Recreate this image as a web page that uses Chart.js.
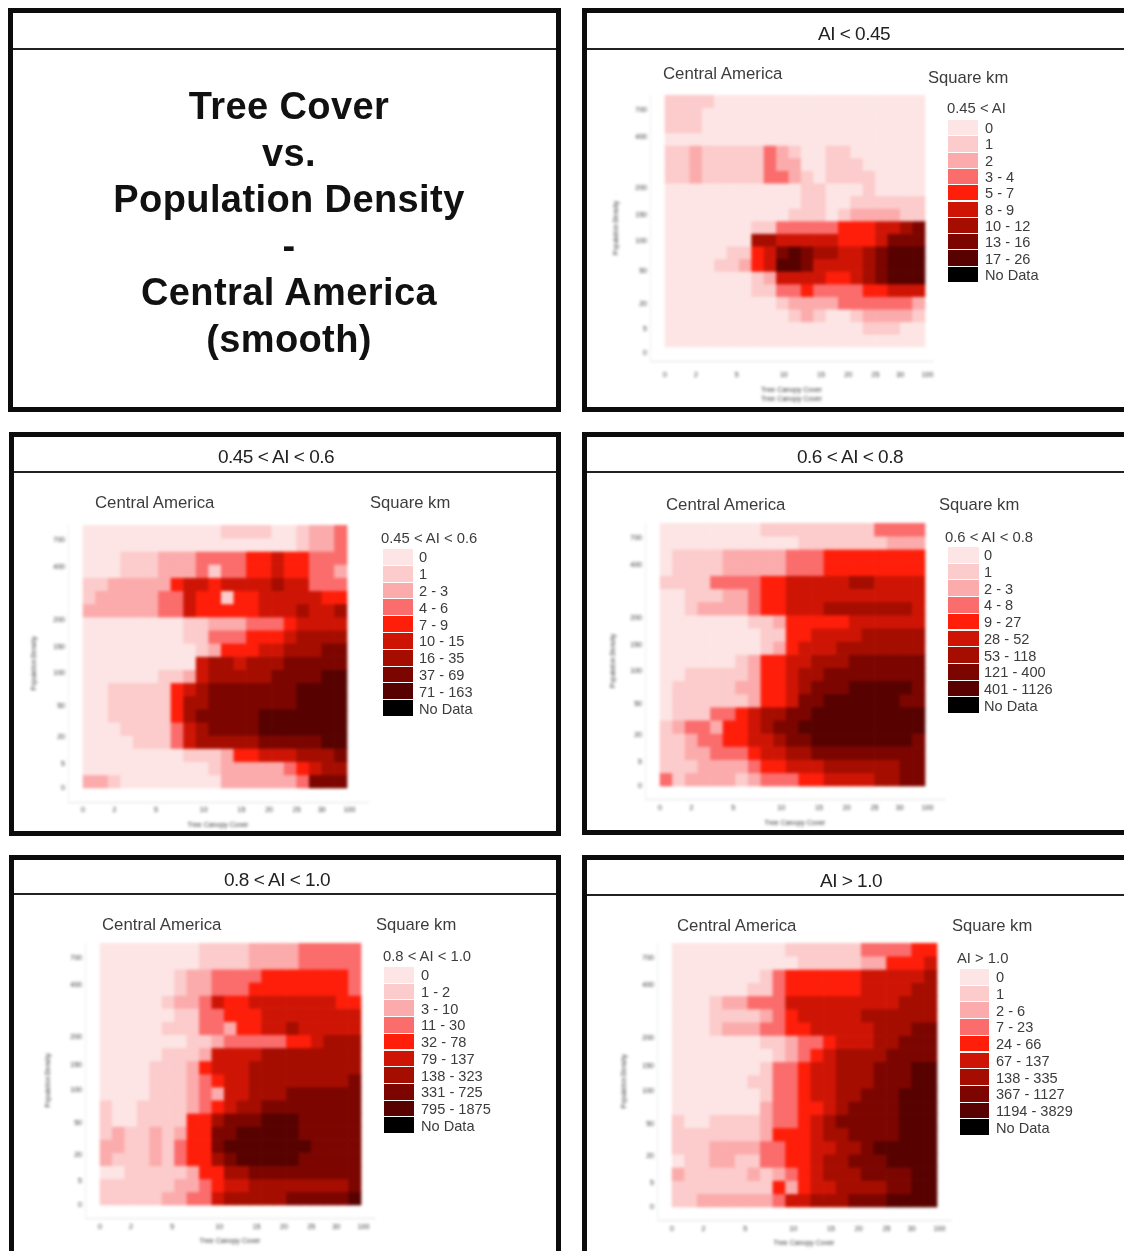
<!DOCTYPE html>
<html><head><meta charset="utf-8">
<script src="https://cdn.jsdelivr.net/npm/chart.js@4"></script>
<style>
html,body{margin:0;padding:0;background:#fff;width:1124px;height:1251px;overflow:hidden;font-family:"Liberation Sans",Arial,sans-serif}
.box{position:absolute;box-sizing:border-box;border:5px solid #0c0c0c;background:#fff;filter:blur(.4px)}
.div{position:absolute;left:0;right:0;height:2px;background:#222}
.t{position:absolute;white-space:nowrap;color:#3c3c3c;filter:blur(.5px);z-index:3}
.head{position:absolute;white-space:nowrap;color:#222;font-size:19px;letter-spacing:-.5px;transform:translate(-50%,-50%);filter:blur(.3px);z-index:3}
.sw{position:absolute;filter:blur(.7px);z-index:2}
canvas{position:absolute;filter:blur(1.4px);z-index:1}
.main{position:absolute;left:0;width:578px;text-align:center;font-weight:bold;font-size:38px;letter-spacing:.4px;color:#111;line-height:46.5px;top:83px;filter:blur(.4px);z-index:3}
</style></head><body>
<div id="root"></div>
<div class="main">Tree Cover<br>vs.<br>Population Density<br>-<br>Central America<br>(smooth)</div>
<script>
const xTickLabels = ["0","2","5","10","15","20","25","30","100"];
const yTickLabels = ["700","400","200","150","100","50","20","5","0"];
const xTickCols = [0,2.5,5.8,9.6,12.6,14.8,17,19,21.2];
const yTickRows = [18.85,16.8,12.8,10.7,8.75,6.25,3.85,1.85,0];
const yTickRowsTop = [18.8,16.7,12.6,10.5,8.4,6,3.4,1.4,-0.5];
const levelColors = ["#fde5e5","#fccbcb","#fbabab","#fb6c6c","#fe1e0a","#ce1505","#a50d00","#7c0500","#570200","#000000"];

const legendA = ["0","1","2","3 - 4","5 - 7","8 - 9","10 - 12","13 - 16","17 - 26","No Data"];
const legendB = ["0","1","2 - 3","4 - 6","7 - 9","10 - 15","16 - 35","37 - 69","71 - 163","No Data"];
const legendC = ["0","1","2 - 3","4 - 8","9 - 27","28 - 52","53 - 118","121 - 400","401 - 1126","No Data"];
const legendD = ["0","1 - 2","3 - 10","11 - 30","32 - 78","79 - 137","138 - 323","331 - 725","795 - 1875","No Data"];
const legendE = ["0","1","2 - 6","7 - 23","24 - 66","67 - 137","138 - 335","367 - 1127","1194 - 3829","No Data"];

const gridA = [
"111100000000000000000",
"111000000000000000000",
"111000000000000000000",
"000000000000000000000",
"112111113210011000000",
"112111113220011100000",
"112111113321011110000",
"000000000001100010000",
"000000000001100111111",
"000000000011101222211",
"000000011333334445567",
"000000066555554445777",
"000001145787665567888",
"000011245887555567888",
"000000012555544567888",
"000000011334333344555",
"000000000122223333332",
"000000000012100122221",
"000000000000000011100",
"000000000000000000000"];
const gridB = [
"000000000001111001223",
"000000000000000001223",
"000111222333344544333",
"000111222313344544332",
"112222245545555655333",
"122222335441445555544",
"222222335444445556556",
"000000001122233345555",
"000000001133344456666",
"000000000124445566677",
"000000000566566677777",
"000000112566666777788",
"001111145677777778888",
"001111146677777778888",
"001111146777778888888",
"000111135677778888888",
"000011135666667777788",
"000000001112445556667",
"000000000012222234566",
"221000000002222223777"];
const gridC = [
"000000001111111113333",
"000000000001111111222",
"011112222233344444444",
"011112222233344444444",
"111133334455555665555",
"001112234455555555555",
"001222234455566666665",
"000000011244444555555",
"000000001144555566666",
"000000001245556666666",
"000000124455666777777",
"001111124456677777777",
"011111224456777888887",
"011111124457788888877",
"011133456677888888888",
"123324456778888888888",
"112334455677888888887",
"112233345566777777777",
"111222234455566666677",
"312222123334455556677"];
const gridD = [
"000000001111222233333",
"000000001111222233333",
"000000122333344444443",
"000000122333444444443",
"000001223544555555544",
"000000113344455555555",
"000001113324455655555",
"000000011233333445666",
"000001112555566666666",
"000011124555666666666",
"000011123455666666667",
"000011123255666777777",
"100111123456677777777",
"100111144677788877777",
"121121244778888877777",
"221121344788888887777",
"211121344678888877777",
"001111124466777777777",
"111111223455666666667",
"111112233566666777778"];
const gridE = [
"000000000111111333344",
"000000000011111224445",
"000000013444444555556",
"000000113444444555566",
"000122333555555555666",
"000111123455555666666",
"000122233445555566677",
"000000011233455566777",
"000000001234566667777",
"000000013345566677788",
"000000113345566677788",
"000000013345566777888",
"000000023344567777888",
"100111123345677777888",
"111111124445667777888",
"111222233445566788888",
"011221133445667778888",
"211111212345666777788",
"111111114245566667788",
"112222223556667778888"];

/* layout only */
const boxes = [
 {x:8,y:8,w:553,h:404,d:39},
 {x:582,y:8,w:560,h:404,d:39},
 {x:9,y:432,w:552,h:404,d:38},
 {x:582,y:432,w:560,h:403,d:38},
 {x:9,y:855,w:552,h:420,d:37},
 {x:582,y:855,w:560,h:420,d:38}
];
const panels = [
 {head:"AI < 0.45",hx:854,hy:34,grid:gridA,leg:legendA,legT:"0.45 < AI",plot:[665,95,925,347],yTitleX:615,axisDown:14,axisRight:8,xH:42,xPad:10,rows:yTickRowsTop,
  xTitle:["Tree Canopy Cover","Tree Canopy Cover"],box:1,ca:[663,74],sk:[928,78],lh:[947,108],sw:[948,978,120,283],lx:985},
 {head:"0.45 < AI < 0.6",hx:276,hy:457,grid:gridB,leg:legendB,legT:"0.45 < AI < 0.6",plot:[83,525,347,788],yTitleX:33,axisDown:14,axisRight:21,xH:27,xPad:4,rows:yTickRows,
  xTitle:"Tree Canopy Cover",box:2,ca:[95,503],sk:[370,503],lh:[381,538],sw:[383,413,549,717],lx:419},
 {head:"0.6 < AI < 0.8",hx:850,hy:457,grid:gridC,leg:legendC,legT:"0.6 < AI < 0.8",plot:[660,523,925,786],yTitleX:612,axisDown:13,axisRight:20,xH:28,xPad:5,rows:yTickRows,
  xTitle:"Tree Canopy Cover",box:3,ca:[666,505],sk:[939,505],lh:[945,537],sw:[948,979,547,714],lx:984},
 {head:"0.8 < AI < 1.0",hx:277,hy:880,grid:gridD,leg:legendD,legT:"0.8 < AI < 1.0",plot:[100,943,361,1205],yTitleX:47,axisDown:13,axisRight:14,xH:27,xPad:5,rows:yTickRows,
  xTitle:"Tree Canopy Cover",box:4,ca:[102,925],sk:[376,925],lh:[383,956],sw:[384,414,967,1134],lx:421},
 {head:"AI > 1.0",hx:851,hy:881,grid:gridE,leg:legendE,legT:"AI > 1.0",plot:[672,943,937,1207],yTitleX:623,axisDown:13,axisRight:14,xH:27,xPad:5,rows:yTickRows,
  xTitle:"Tree Canopy Cover",box:5,ca:[677,926],sk:[952,926],lh:[957,958],sw:[960,989,969,1136],lx:996}
];

const root = document.getElementById('root');
function el(cls, css, text){
  const e = document.createElement('div'); e.className = cls;
  Object.assign(e.style, css); if (text!==undefined) e.textContent = text;
  root.appendChild(e); return e;
}
boxes.forEach(b=>{
  const e = el('box',{left:b.x+'px',top:b.y+'px',width:b.w+'px',height:b.h+'px'});
  const d = document.createElement('div'); d.className='div'; d.style.top=(b.d-5+1)+'px'; e.appendChild(d);
});

const TICK_FONT = {family:'"Liberation Sans"',size:7};
panels.forEach(p=>{
  const b = boxes[p.box];
  el('head',{left:p.hx+'px',top:p.hy+'px'},p.head);
  const txt=(s,x,y,fs)=>el('t',{left:x+'px',top:y+'px',fontSize:fs+'px',lineHeight:'1',transform:'translateY(-50%)'},s);
  txt("Central America",p.ca[0],p.ca[1],16.8);
  txt("Square km",p.sk[0],p.sk[1],16.6);
  txt(p.legT,p.lh[0],p.lh[1],14.8);
  const [sl,sr,st,sb]=p.sw; const step=(sb-st)/p.leg.length;
  p.leg.forEach((s,i)=>{
    const c = i===p.leg.length-1 ? levelColors[9] : levelColors[i];
    el('sw',{left:sl+'px',top:(st+i*step)+'px',width:(sr-sl)+'px',height:(step-1)+'px',background:c});
    txt(s,p.lx,st+(i+.5)*step,14.6);
  });

  const [pl,pt,pr,pb]=p.plot;
  const cellW=(pr-pl)/21, cellH=(pb-pt)/20;
  const axisL=pl-15, axisR=pr+p.axisRight, axisB=pb+p.axisDown;
  const yW=axisL-p.yTitleX+3;
  const cx=b.x+5, cy=b.y+b.d+2, cw=Math.min(b.w-10,1124-cx), ch=Math.min(b.h-b.d-7,1251-cy);
  const cv=document.createElement('canvas');
  cv.width=cw; cv.height=ch; cv.style.left=cx+'px'; cv.style.top=cy+'px';
  cv.style.width=cw+'px'; cv.style.height=ch+'px';
  root.appendChild(cv);

  const datasets=p.grid.map((row,r)=>({
    label:'row'+r,
    data:[...row].map((_,c)=>({x:c+.5,y:[19-r,20-r]})),
    backgroundColor:[...row].map(ch=>levelColors[+ch]),
    borderWidth:0,barPercentage:1,categoryPercentage:1,grouped:false
  }));
  new Chart(cv,{
    type:'bar',
    data:{datasets},
    options:{
      responsive:false,animation:false,
      layout:{autoPadding:false,padding:{left:axisL-cx-yW,top:pt-cy,right:cw-(axisR-cx),bottom:ch-(axisB-cy)-p.xH}},
      plugins:{legend:{display:false},tooltip:{enabled:false},title:{display:false}},
      scales:{
        x:{type:'linear',offset:false,min:-15/cellW,max:21+p.axisRight/cellW,
          grid:{display:false,drawTicks:false},
          border:{display:true,color:'#e2e2e2',width:1},
          afterBuildTicks:s=>{s.ticks=xTickCols.map(v=>({value:v}));},
          afterFit:s=>{s.height=p.xH;},
          ticks:{autoSkip:false,maxRotation:0,padding:p.xPad,font:TICK_FONT,color:'#333',callback:(v,i)=>xTickLabels[i]},
          title:{display:true,text:p.xTitle,font:{family:'"Liberation Sans"',size:7},color:'#333',padding:0}},
        y:{type:'linear',min:-p.axisDown/cellH,max:20,
          grid:{display:false,drawTicks:false},
          border:{display:true,color:'#eeeeee',width:1},
          afterBuildTicks:s=>{s.ticks=p.rows.map(v=>({value:v}));},
          afterFit:s=>{s.width=yW;},
          ticks:{autoSkip:false,padding:3,font:TICK_FONT,color:'#333',callback:(v,i)=>yTickLabels[i]},
          title:{display:true,text:"Population Density",font:{family:'"Liberation Sans"',size:6.5},color:'#333',padding:0}}
      }
    }
  });
});
</script>
</body></html>
